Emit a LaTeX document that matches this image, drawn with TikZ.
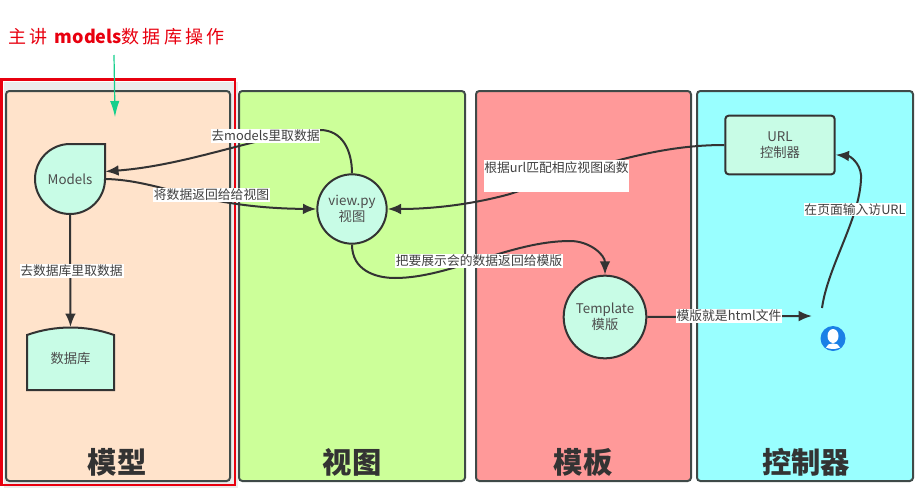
\documentclass[tikz,border=0pt]{standalone}
\usepackage{fontspec}
\setmainfont{Noto Sans CJK SC}
\usetikzlibrary{arrows.meta,positioning,shapes}
\definecolor{panelline}{HTML}{3F4A48}
\definecolor{linkline}{HTML}{333333}
\definecolor{nodefill}{HTML}{C8FCE6}
\definecolor{modelfill}{HTML}{FFE3CB}
\definecolor{viewfill}{HTML}{CCFF99}
\definecolor{templatefill}{HTML}{FF9999}
\definecolor{ctrlfill}{HTML}{99FFFF}
\definecolor{markred}{HTML}{E8000F}
\definecolor{markgreen}{HTML}{14CF8C}
\definecolor{userblue}{HTML}{1A80E6}
\tikzset{
  panel/.style={draw=panelline, line width=1.5pt, rounded corners=2.5pt, inner sep=0pt},
  paneltitle/.style={text=black!80, font=\fontsize{22}{24}\selectfont\bfseries, inner sep=0pt},
  shapenode/.style={draw=linkline, line width=1.5pt, fill=nodefill},
  nodetext/.style={text=black!70, font=\fontsize{10}{12}\selectfont, align=center, inner sep=0pt},
  link/.style={draw=linkline, line width=1.5pt, -{Latex[length=10pt,width=8pt]}},
  linklabel/.style={fill=white, text=black!75, font=\fontsize{9.6}{11}\selectfont, inner sep=0.6pt}
}
\begin{document}
\begin{tikzpicture}[x=0.75pt, y=-0.75pt]
  \useasboundingbox (0,0) rectangle (920,489);
  \fill[black!8] (4,82) rectangle (238,488);
  \foreach \name/\xa/\xb/\col in {model/6/230/modelfill, view/239/465/viewfill, template/476/691/templatefill, ctrl/697/913/ctrlfill} {
    \pgfmathsetmacro{\xc}{(\xa+\xb)/2}
    \pgfmathsetmacro{\panelwd}{(\xb-\xa)*0.75}
    \node[panel, fill=\col, minimum width=\panelwd pt, minimum height=292.5pt] (\name) at (\xc,286) {};
  }
  \draw[markred, line width=2pt] (1.5,79.5) rectangle (235,485);
  \node[paneltitle] (modeltitle) at (117,462) {模型};
  \node[paneltitle] (viewtitle) at (352,462) {视图};
  \node[paneltitle] (templatetitle) at (583,462) {模板};
  \node[paneltitle] (ctrltitle) at (806,462) {控制器};

  \node[text=markred, font=\fontsize{13.5}{15}\selectfont, inner sep=0pt] (headline) at (116.5,37) {{\addfontfeature{LetterSpace=18}主讲} \textbf{models}{\addfontfeature{LetterSpace=18}数据库操作}};
  \coordinate (markstart) at (114,55);
  \coordinate (markend) at (115,117);
  \draw[markgreen, line width=0.9pt, -{Latex[length=12pt,width=7pt]}] (markstart) -- (markend);

  \draw[shapenode] (70,144) -- (105,144) -- (105,179) arc[start angle=0, delta angle=270, radius=35] -- cycle;
  \node[nodetext, minimum width=52.5pt, minimum height=52.5pt] (models) at (70,179) {Models};
  \draw[shapenode] (27,390) -- (27,335) .. controls (55,325) and (86,325) .. (114,335) -- (114,390) -- cycle;
  \node[nodetext, minimum width=65pt, minimum height=47pt] (db) at (70.5,358.5) {数据库};
  \node[shapenode, circle, nodetext, minimum size=52pt] (viewpy) at (352,209) {view.py\\视图};
  \node[shapenode, circle, nodetext, minimum size=62pt] (tpl) at (605,317) {Template\\模版};
  \node[shapenode, rounded corners=2.5pt, nodetext, minimum width=82pt, minimum height=44pt] (url) at (780,145) {URL\\控制器};
  \node[circle, fill=userblue, minimum size=18.75pt, inner sep=0pt] (user) at (833,338.5) {};
  \fill[white] (833,336) ellipse[x radius=5.5, y radius=7];
  \fill[white] (826,347.5) .. controls (827,342) and (839,342) .. (840,347.5) .. controls (836,349.5) and (830,349.5) .. (826,347.5) -- cycle;
  \coordinate (userout) at (822,308);
  \coordinate (userin) at (812,316);

  \draw[link] (viewpy.north) .. controls (352,150) and (342,130) .. (320,130) .. controls (260,135) and (190,165) .. (models.12);
  \draw[link] (models.east) .. controls (160,180) and (200,208) .. (viewpy.west);
  \draw[link] (models.south) -- (db.north);
  \draw[link] (url.west) .. controls (665,145) and (610,160) .. (510,194) .. controls (470,205) and (430,209) .. (viewpy.east);
  \draw[link] (viewpy.south) .. controls (352,270) and (375,278) .. (395,278) .. controls (450,278) and (510,241) .. (570,241) .. controls (590,241) and (605,255) .. (tpl.north);
  \draw[link] (tpl.east) -- (userin);
  \draw[link] (userout) .. controls (828,265) and (862,215) .. (861,175) .. controls (860,163) and (850,156) .. (url.-10);

  \node[linklabel] (fetchlabel) at (265.5,136) {去models里取数据};
  \node[linklabel] (returnlabel) at (211.5,195) {将数据返回给给视图};
  \node[linklabel] (dblabel) at (71.5,271) {去数据库里取数据};
  \node[linklabel, text height=9pt, text depth=14.5pt, minimum width=108.75pt] (matchlabel) at (556.5,176) {根据url匹配相应视图函数};
  \node[linklabel] (showlabel) at (479,261) {把要展示会的数据返回给模版};
  \node[linklabel] (htmllabel) at (729,316) {模版就是html文件};
  \node[linklabel] (inputlabel) at (855,209.5) {在页面输入访URL};
\end{tikzpicture}
\end{document}
